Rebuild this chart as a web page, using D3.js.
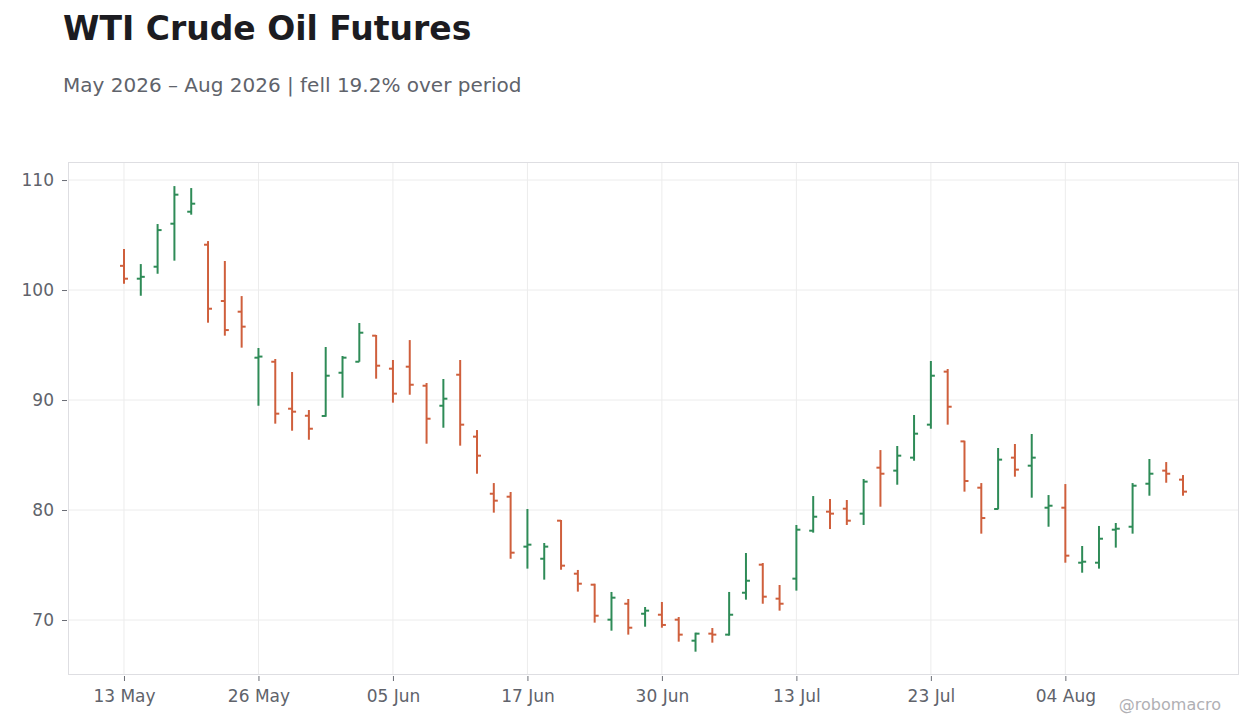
<!DOCTYPE html>
<html>
<head>
<meta charset="utf-8">
<script src="https://cdn.jsdelivr.net/npm/d3@7"></script>
<style>
  html, body { margin: 0; padding: 0; background: #ffffff; }
  svg { display: block; font-family: "DejaVu Sans", sans-serif; }
</style>
</head>
<body>
<svg id="chart" width="1260" height="728"></svg>
<script>
const dates = ["2026-05-13","2026-05-14","2026-05-15","2026-05-18","2026-05-19","2026-05-20","2026-05-21","2026-05-22",
  "2026-05-26","2026-05-27","2026-05-28","2026-05-29","2026-06-01","2026-06-02","2026-06-03","2026-06-04",
  "2026-06-05","2026-06-08","2026-06-09","2026-06-10","2026-06-11","2026-06-12","2026-06-15","2026-06-16",
  "2026-06-17","2026-06-18","2026-06-22","2026-06-23","2026-06-24","2026-06-25","2026-06-26","2026-06-29",
  "2026-06-30","2026-07-01","2026-07-02","2026-07-06","2026-07-07","2026-07-08","2026-07-09","2026-07-10",
  "2026-07-13","2026-07-14","2026-07-15","2026-07-16","2026-07-17","2026-07-20","2026-07-21","2026-07-22",
  "2026-07-23","2026-07-24","2026-07-27","2026-07-28","2026-07-29","2026-07-30","2026-07-31","2026-08-03",
  "2026-08-04","2026-08-05","2026-08-06","2026-08-07","2026-08-10","2026-08-11","2026-08-12","2026-08-13"];

const open  = [102.2,101.03,102.12,106.03,107.12,104.12,99.0,98.03,93.85,93.48,89.21,88.57,88.55,92.48,93.48,95.85,
  92.85,93.03,91.3,89.48,92.3,86.67,81.48,81.21,76.67,75.57,79.03,74.21,73.21,70.03,71.48,70.57,
  70.48,70.03,68.12,68.76,68.67,72.48,75.03,71.94,73.76,78.12,79.85,80.12,79.67,83.85,83.58,84.76,
  87.76,92.58,86.24,82.03,80.09,84.76,84.03,80.21,80.21,75.21,75.21,78.21,78.48,82.39,83.58,82.76];
const high  = [103.73,102.36,106.0,109.45,109.27,104.45,102.64,99.45,94.73,93.73,92.55,89.09,94.82,94.0,97.0,95.91,
  93.64,95.45,91.55,91.91,93.64,87.27,82.45,81.64,80.09,77.0,79.09,74.55,73.3,72.55,71.91,71.18,
  71.64,70.27,68.85,69.27,72.55,76.09,75.18,73.18,78.64,81.27,81.0,80.91,82.82,85.45,85.82,88.64,
  93.55,92.82,86.3,82.45,85.64,86.0,86.91,81.36,82.36,76.73,78.55,78.82,82.45,84.64,84.36,83.18];
const low   = [100.57,99.48,101.48,102.67,106.85,97.03,95.85,94.76,89.48,87.85,87.21,86.39,88.48,90.21,93.48,91.94,
  89.76,90.48,86.03,87.48,85.85,83.3,79.76,75.57,74.67,73.67,74.57,72.58,69.76,69.03,68.67,69.39,
  69.3,68.03,67.12,67.94,68.58,71.85,71.48,70.85,72.67,77.94,78.27,78.64,78.64,80.3,82.3,84.48,
  87.39,87.76,81.67,77.85,80.06,83.03,81.12,78.48,75.21,74.3,74.67,76.58,77.85,81.3,82.48,81.3];
const close = [101.03,101.2,105.45,108.67,107.85,98.3,96.36,96.67,93.95,88.76,88.94,87.39,92.21,93.85,96.12,93.12,
  90.58,91.39,88.3,90.12,87.76,84.94,80.85,76.12,76.85,76.67,74.94,73.3,70.39,72.03,69.3,70.85,
  69.55,68.67,68.76,68.67,70.48,73.57,72.12,71.48,78.21,79.39,79.67,79.03,82.58,83.3,84.94,86.94,
  92.21,89.39,82.64,79.27,84.58,83.67,84.76,80.39,75.85,75.3,77.39,78.3,82.21,83.3,83.3,81.67];

const yTicks = [70, 80, 90, 100, 110];
const xTickEvery = 8;

const titleText = "WTI Crude Oil Futures";
const subtitleText = "May 2026 \u2013 Aug 2026 | fell 19.2% over period";
const credit = "@robomacro";

const upColor = "#2e8b57", downColor = "#cf5f3c";

const svg = d3.select("#chart");
const plot = {left: 68, right: 1239, top: 162, bottom: 675};

const pad = 3.33;
const x = d3.scaleLinear().domain([-pad, dates.length - 1 + pad]).range([plot.left, plot.right]);
const y = d3.scaleLinear().domain([65, 111.64]).range([plot.bottom, plot.top]);

const parse = d3.timeParse("%Y-%m-%d");
const fmt = d3.timeFormat("%d %b");

svg.append("text").attr("x", 63).attr("y", 40)
  .attr("font-size", 33).attr("font-weight", "bold").attr("fill", "#1c1c21").text(titleText);
svg.append("text").attr("x", 63).attr("y", 92)
  .attr("font-size", 20).attr("fill", "#60636b").text(subtitleText);

svg.append("rect").attr("x", plot.left).attr("y", plot.top)
  .attr("width", plot.right - plot.left).attr("height", plot.bottom - plot.top)
  .attr("fill", "#ffffff");

const xTickIdx = d3.range(0, dates.length, xTickEvery);

// grid
svg.append("g").selectAll("line").data(yTicks).join("line")
  .attr("x1", plot.left).attr("x2", plot.right)
  .attr("y1", d => y(d)).attr("y2", d => y(d))
  .attr("stroke", "#ececec").attr("stroke-width", 1);
svg.append("g").selectAll("line").data(xTickIdx).join("line")
  .attr("x1", d => x(d)).attr("x2", d => x(d))
  .attr("y1", plot.top).attr("y2", plot.bottom)
  .attr("stroke", "#ececec").attr("stroke-width", 1);

// frame
svg.append("rect").attr("x", plot.left + 0.5).attr("y", plot.top + 0.5)
  .attr("width", plot.right - plot.left - 1).attr("height", plot.bottom - plot.top - 1)
  .attr("fill", "none").attr("stroke", "#dedee2").attr("stroke-width", 1);

// axes
const yAxis = d3.axisLeft(y).tickValues(yTicks).tickSize(5).tickPadding(8);
const gy = svg.append("g").attr("transform", `translate(${plot.left - 1},0)`).call(yAxis);
gy.select(".domain").remove();
gy.selectAll(".tick line").attr("stroke", "#6a6d75");
gy.selectAll("text").attr("font-size", 17).attr("fill", "#60636b").attr("font-family", "DejaVu Sans");

const xAxis = d3.axisBottom(x).tickValues(xTickIdx).tickSize(5).tickPadding(9)
  .tickFormat(i => fmt(parse(dates[i])));
const gx = svg.append("g").attr("transform", `translate(0,${plot.bottom + 1})`).call(xAxis);
gx.select(".domain").remove();
gx.selectAll(".tick line").attr("stroke", "#6a6d75");
gx.selectAll("text").attr("font-size", 17).attr("fill", "#60636b").attr("font-family", "DejaVu Sans");

// OHLC bars
const data = dates.map((d, i) => ({i, o: open[i], h: high[i], l: low[i], c: close[i]}));
const bars = svg.append("g").selectAll("g").data(data).join("g")
  .attr("stroke", d => d.c >= d.o ? upColor : downColor).attr("stroke-width", 2);
bars.append("line").attr("x1", d => x(d.i)).attr("x2", d => x(d.i))
  .attr("y1", d => y(d.h)).attr("y2", d => y(d.l));
bars.append("line").attr("x1", d => x(d.i) - 4).attr("x2", d => x(d.i))
  .attr("y1", d => y(d.o)).attr("y2", d => y(d.o));
bars.append("line").attr("x1", d => x(d.i)).attr("x2", d => x(d.i) + 4)
  .attr("y1", d => y(d.c)).attr("y2", d => y(d.c));

svg.append("text").attr("x", 1221).attr("y", 710).attr("text-anchor", "end")
  .attr("font-size", 16).attr("fill", "#b0b0b4").text(credit);
</script>
</body>
</html>
